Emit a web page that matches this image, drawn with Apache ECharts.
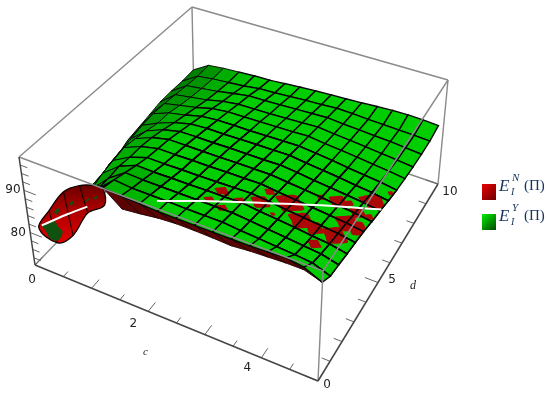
<!DOCTYPE html>
<html>
<head>
<meta charset="utf-8">
<style>html,body{margin:0;background:#fff}#main{width:550px;height:396px}</style>
<script src="https://cdn.jsdelivr.net/npm/echarts@6/dist/echarts.min.js"></script>
</head>
<body>
<div id="main"></div>
<script>
// mesh positions
var cValues = [0, 0.31, 0.61, 0.92, 1.23, 1.53, 1.84, 2.14, 2.45, 2.76, 3.06, 3.37, 3.68, 3.98, 4.29, 4.59, 4.9];
var dValues = [0.5, 1.18, 1.86, 2.54, 3.21, 3.89, 4.57, 5.25, 5.93, 6.61, 7.29, 7.96, 8.64, 9.32, 10];

// E_I^Y, one row per d value
var greenZ = [
  [79.5, 78.7, 82.0, 88.2, 95.3, 95.0, 94.8, 94.6, 94.6, 94.6, 94.6, 94.6, 94.6, 94.8, 95.0, 94.4, 92.5],
  [80.5, 85.1, 87.1, 90.7, 94.6, 94.2, 94.2, 94.2, 94.1, 94.1, 94.1, 93.7, 93.4, 93.1, 92.8, 92.4, 90.9],
  [79.5, 83.6, 86.6, 90.7, 93.7, 93.5, 93.5, 93.5, 93.5, 93.5, 93.5, 93.1, 92.7, 92.3, 91.9, 91.5, 90.5],
  [78.7, 82.0, 87.7, 91.0, 92.8, 92.7, 92.8, 92.8, 92.9, 92.9, 93.0, 92.5, 92.1, 91.7, 91.2, 90.8, 90.0],
  [77.4, 82.0, 88.2, 90.6, 92.0, 92.0, 92.1, 92.1, 92.2, 92.3, 92.4, 92.0, 91.5, 91.1, 90.7, 90.3, 89.6],
  [76.5, 83.1, 88.7, 90.5, 91.5, 91.5, 91.6, 91.6, 91.7, 91.7, 91.8, 91.3, 90.9, 90.5, 90.1, 89.7, 89.1],
  [77.3, 83.6, 88.2, 90.0, 91.0, 91.0, 91.0, 91.0, 91.1, 91.1, 91.1, 90.7, 90.3, 89.9, 89.4, 89.0, 88.4],
  [77.8, 84.0, 87.4, 89.2, 90.2, 90.3, 90.3, 90.4, 90.4, 90.4, 90.5, 90.1, 89.6, 89.2, 88.8, 88.4, 87.8],
  [79.1, 84.6, 86.6, 88.2, 89.3, 89.6, 89.6, 89.7, 89.8, 89.8, 89.9, 89.4, 89.0, 88.6, 88.1, 87.7, 87.1],
  [79.6, 84.8, 86.4, 87.3, 88.4, 88.8, 88.9, 88.9, 89.0, 89.1, 89.2, 88.8, 88.4, 87.9, 87.5, 87.1, 86.5],
  [80.1, 84.6, 85.5, 86.4, 87.5, 88.0, 88.1, 88.2, 88.3, 88.4, 88.6, 88.1, 87.8, 87.4, 87.0, 86.6, 86.1],
  [80.7, 84.1, 84.8, 85.5, 86.5, 87.1, 87.2, 87.3, 87.5, 87.7, 87.9, 87.5, 87.2, 86.9, 86.5, 86.2, 85.8],
  [80.7, 83.6, 84.2, 84.8, 85.6, 86.3, 86.4, 86.6, 86.8, 87.0, 87.2, 86.9, 86.7, 86.5, 86.3, 86.0, 85.7],
  [80.5, 83.2, 83.8, 84.2, 84.6, 85.2, 85.4, 85.7, 86.0, 86.2, 86.5, 86.4, 86.2, 86.1, 86.0, 85.9, 85.7],
  [80.6, 83.2, 83.7, 84.0, 84.3, 84.4, 84.8, 85.1, 85.4, 85.6, 85.8, 86.0, 86.3, 86.5, 86.6, 86.5, 86.3]
];

// E_I^N, only the front strip shows, the rest stays under the green sheet
var redZ = [
  [79.2, 77.3, 80.7, 87.7, 91.2, 91.9, 92.4, 93.0, 93.3, 93.3, 93.2, 93.0, 93.4, 93.6, 93.8, 93.8, 92.5],
  [80.7, 86.9, 90.0, 91.6, 94.3, 94.2, 94.2, 94.2, 94.1, 94.1, 94.1, 93.7, 93.4, 93.1, 92.8, 92.4, 90.9]
];

// places where the red sheet pokes through the green one
var redSpotC = [2.64, 2.6, 2.75, 2.87, 3.0, 3.27, 3.26, 3.64, 3.98, 4.23, 4.4, 3.56, 4.24, 3.97, 4.41, 4.55, 4.62, 4.72, 4.85, 4.6, 4.78, 4.56, 4.82];
var redSpotD = [2.82, 2.12, 2.7, 1.93, 2.63, 3.0, 3.71, 3.61, 3.02, 2.95, 2.2, 2.7, 4.75, 4.57, 4.92, 5.41, 4.65, 5.55, 6.33, 3.91, 3.91, 3.06, 4.72];
var redSpotR = [0.13, 0.1, 0.05, 0.1, 0.1, 0.18, 0.1, 0.26, 0.24, 0.18, 0.13, 0.05, 0.18, 0.08, 0.08, 0.1, 0.16, 0.22, 0.06, 0.24, 0.2, 0.24, 0.08];

// and where the green one pokes through the red curl
var greenSpotC = [0.2, 0.22, 0.5, 0.98, 0.82];
var greenSpotD = [0.62, 0.95, 0.97, 0.85, 0.9];
var greenSpotR = [0.19, 0.06, 0.04, 0.05, 0.04];

// white curve where the sheets cross
var whiteC1 = [0.02, 0.45, 0.85];
var whiteD1 = [0.62, 0.84, 0.74];
var whiteC2 = [2.0, 2.52, 3.28, 4.07, 4.9];
var whiteD2 = [1.0, 1.87, 2.95, 4.2, 5.35];

var cTicks = [0, 0.5, 1, 1.5, 2, 2.5, 3, 3.5, 4, 4.5, 5];
var dTicks = [0, 1, 2, 3, 4, 5, 6, 7, 8, 9, 10];
var zTicks = [74, 76, 78, 80, 82, 84, 86, 88, 90, 92, 94, 96];
var cLabels = [0, 2, 4];
var dLabels = [0, 5, 10];
var zLabels = [80, 90];

var cMax = 5, dMax = 10, zMin = 72.3, zMax = 97.9;

// box corners on screen, named c d z (0 low, 1 high)
var box = {
  b00: [35, 265], b10: [318, 381], b11: [438, 184], b01: [194, 100],
  t00: [19, 157], t10: [323, 271], t11: [448, 80], t01: [192, 7]
};

function mix(a, b, t) {
  return [a[0] + (b[0] - a[0]) * t, a[1] + (b[1] - a[1]) * t];
}

function project(c, d, z) {
  var u = c / cMax, t = d / dMax, f = (z - zMin) / (zMax - zMin);
  var bottom = mix(mix(box.b00, box.b10, u), mix(box.b01, box.b11, u), t);
  var top = mix(mix(box.t00, box.t10, u), mix(box.t01, box.t11, u), t);
  return mix(bottom, top, f);
}

function findCell(list, v) {
  var i = 0;
  while (i < list.length - 2 && list[i + 1] < v) i++;
  return i;
}

// bilinear lookup on a sheet
function sheetZ(sheet, c, d) {
  var i = findCell(cValues, c), j = Math.min(findCell(dValues, d), sheet.length - 2);
  var u = (c - cValues[i]) / (cValues[i + 1] - cValues[i]);
  var t = Math.max(0, (d - dValues[j]) / (dValues[j + 1] - dValues[j]));
  var a = sheet[j][i] + (sheet[j][i + 1] - sheet[j][i]) * u;
  var b = sheet[j + 1][i] + (sheet[j + 1][i + 1] - sheet[j + 1][i]) * u;
  return a + (b - a) * t;
}

function node(api, sheet, i, j) {
  return api.coord(project(cValues[i], dValues[j], sheet[j][i]));
}

function cellPoints(api, sheet, i, j) {
  return [node(api, sheet, i, j), node(api, sheet, i + 1, j), node(api, sheet, i + 1, j + 1), node(api, sheet, i, j + 1)];
}

var cShade = [0.62, 0.72, 0.84, 0.93, 0.98];
function greenColor(i, j) {
  var k = i < cShade.length ? cShade[i] : 1;
  if (j < 3 && i < 6) k *= 0.88;
  return 'rgb(0,' + Math.round(206 * k) + ',0)';
}

var greenCells = [], topCells = [], bandCells = [];
for (var i = 0; i < cValues.length - 1; i++) {
  for (var j = dValues.length - 2; j >= 0; j--) {
    greenCells.push([i, j]);
    if (i >= 5 && j >= 1 && j <= 8) topCells.push([i, j]);
  }
  if (i >= 4 && i < 15) bandCells.push(i);
}

var spots = [];
redSpotC.forEach(function (c, k) { spots.push([c, redSpotD[k], redSpotR[k], 0]); });
greenSpotC.forEach(function (c, k) { spots.push([c, greenSpotD[k], greenSpotR[k], 1]); });

var wobble = [1, 0.75, 1.1, 0.8, 0.95, 0.7, 1.15, 0.85];

var edgesBack = [
  [0, 0, zMax, 0, 10, zMax], [0, 10, zMax, 5, 10, zMax], [0, 10, zMin, 0, 10, zMax],
  [0, 0, zMin, 0, 10, zMin], [0, 10, zMin, 5, 10, zMin]
];
var edgesFront = [
  [0, 0, zMax, 5, 0, zMax], [5, 0, zMax, 5, 10, zMax], [5, 0, zMin, 5, 0, zMax], [5, 10, zMin, 5, 10, zMax]
];
var edgesAxis = [
  [0, 0, zMin, 5, 0, zMin], [5, 0, zMin, 5, 10, zMin], [0, 0, zMin, 0, 0, zMax]
];

var ticks = [];
cTicks.forEach(function (c) {
  var big = c % 1 === 0;
  ticks.push([c, 0, zMin, c, big ? 0.5 : 0.3, zMin]);
});
dTicks.forEach(function (d) {
  var big = d % 5 === 0;
  ticks.push([5, d, zMin, big ? 4.75 : 4.85, d, zMin]);
});
zTicks.forEach(function (z) {
  var big = z % 10 === 0;
  ticks.push([0, 0, z, big ? 0.2 : 0.12, 0, z]);
});

var tickText = [];
var cOffset = [[-3, 15], [-15, 12], [-14, 10]];
var dOffset = [[9, 4], [14, -3], [12, 8]];
var zOffset = [[-12, 0], [-11, 0]];
cLabels.forEach(function (v, k) { tickText.push([v, 0, zMin, String(v), cOffset[k][0], cOffset[k][1]]); });
dLabels.forEach(function (v, k) { tickText.push([5, v, zMin, String(v), dOffset[k][0], dOffset[k][1]]); });
zLabels.forEach(function (v, k) { tickText.push([0, 0, v, String(v), zOffset[k][0], zOffset[k][1]]); });

function lineSeries(list, color, width, z) {
  return {
    type: 'custom', coordinateSystem: 'cartesian2d', silent: true, z: z, clip: false,
    data: list.map(function (e, k) { return [k]; }),
    renderItem: function (params, api) {
      var e = list[params.dataIndex];
      var a = api.coord(project(e[0], e[1], e[2])), b = api.coord(project(e[3], e[4], e[5]));
      return { type: 'line', shape: { x1: a[0], y1: a[1], x2: b[0], y2: b[1] }, style: { stroke: color, lineWidth: width } };
    }
  };
}

function curveSeries(cs, ds, sheet, z) {
  return {
    type: 'custom', coordinateSystem: 'cartesian2d', silent: true, z: z, clip: false,
    data: [[0]],
    renderItem: function (params, api) {
      var pts = cs.map(function (c, k) { return api.coord(project(c, ds[k], sheetZ(sheet, c, ds[k]))); });
      return { type: 'polyline', shape: { points: pts, smooth: 0.2 }, style: { stroke: '#fff', lineWidth: 2, fill: null } };
    }
  };
}

var nameRed = 'E_I^N(Π)', nameGreen = 'E_I^Y(Π)';
var mathFont = '"Liberation Serif", serif';

function mathLabel(top, sup) {
  var color = '#1b3560';
  return [
    { type: 'text', left: 499, top: top, style: { text: 'E', font: 'italic 17px ' + mathFont, fill: color } },
    { type: 'text', left: 512, top: top - 5, style: { text: sup, font: 'italic 11px ' + mathFont, fill: color } },
    { type: 'text', left: 511, top: top + 9, style: { text: 'I', font: 'italic 10px ' + mathFont, fill: color } },
    { type: 'text', left: 524, top: top + 1, style: { text: '(Π)', font: '15px ' + mathFont, fill: color } }
  ];
}

var chart = echarts.init(document.getElementById('main'));
chart.setOption({
  animation: false,
  backgroundColor: '#fff',
  grid: { left: 0, right: 0, top: 0, bottom: 0 },
  xAxis: { type: 'value', min: 0, max: 550, show: false },
  yAxis: { type: 'value', min: 0, max: 396, inverse: true, show: false },
  legend: {
    orient: 'vertical', left: 477, top: 179, itemWidth: 14, itemHeight: 16, itemGap: 14,
    selectedMode: false, icon: 'rect', formatter: function () { return ' '; },
    data: [
      { name: nameRed, itemStyle: { color: new echarts.graphic.LinearGradient(0, 0, 1, 1, [{ offset: 0, color: '#e80000' }, { offset: 1, color: '#700000' }]) } },
      { name: nameGreen, itemStyle: { color: new echarts.graphic.LinearGradient(0, 0, 1, 1, [{ offset: 0, color: '#00ee00' }, { offset: 1, color: '#004800' }]) } }
    ]
  },
  graphic: [
    { type: 'text', left: 143, top: 347, style: { text: 'c', font: 'italic 11px ' + mathFont, fill: '#222' } },
    { type: 'text', left: 410, top: 280, style: { text: 'd', font: 'italic 12px ' + mathFont, fill: '#222' } }
  ].concat(mathLabel(178, 'N'), mathLabel(208, 'Y')),
  series: [
    lineSeries(edgesBack, '#8a8a8a', 1.4, 1),
    {
      // dark underside strip below the green front edge
      name: nameRed, type: 'custom', coordinateSystem: 'cartesian2d', silent: true, z: 2, clip: false,
      itemStyle: { color: '#c00000' },
      data: bandCells,
      renderItem: function (params, api) {
        var i = bandCells[params.dataIndex];
        var pts = [node(api, greenZ, i, 0), node(api, greenZ, i + 1, 0), node(api, redZ, Math.min(i + 2, 16), 0), node(api, redZ, i + 1, 0)];
        return { type: 'polygon', shape: { points: pts }, style: { fill: '#5c0404', stroke: '#1c0000', lineWidth: 0.9 } };
      }
    },
    {
      name: nameGreen, type: 'custom', coordinateSystem: 'cartesian2d', silent: true, z: 3, clip: false,
      itemStyle: { color: '#00d000' },
      data: greenCells,
      renderItem: function (params, api) {
        var cell = greenCells[params.dataIndex];
        return {
          type: 'polygon', shape: { points: cellPoints(api, greenZ, cell[0], cell[1]) },
          style: { fill: greenColor(cell[0], cell[1]), stroke: '#050505', lineWidth: cell[0] < 3 ? 0.9 : 1.4 }
        };
      }
    },
    {
      // the red curl at small c
      type: 'custom', coordinateSystem: 'cartesian2d', silent: true, z: 4, clip: false,
      data: [[0]],
      renderItem: function (params, api) {
        var outline = [0, 1, 2, 3, 4].map(function (i) { return node(api, redZ, i, 0); });
        outline.push(node(api, greenZ, 4, 0));
        [3, 2, 1, 0].forEach(function (i) { outline.push(node(api, redZ, i, 1)); });
        var lines = [1, 2, 3].map(function (i) {
          var a = node(api, redZ, i - 1, 1), b = node(api, redZ, i, 0);
          return { type: 'line', shape: { x1: a[0], y1: a[1], x2: b[0], y2: b[1] }, style: { stroke: '#1c0000', lineWidth: 1.1 } };
        });
        var fill = new echarts.graphic.LinearGradient(0, 0, 0, 1, [
          { offset: 0, color: '#6a0000' }, { offset: 0.4, color: '#a80000' }, { offset: 1, color: '#e00000' }
        ]);
        return {
          type: 'group',
          children: [{ type: 'polygon', shape: { points: outline, smooth: 0.35 }, style: { fill: fill, stroke: '#100000', lineWidth: 1.3 } }].concat(lines)
        };
      }
    },
    {
      type: 'custom', coordinateSystem: 'cartesian2d', silent: true, z: 5, clip: false,
      data: spots,
      renderItem: function (params, api) {
        var s = spots[params.dataIndex];
        var sheet = s[3] ? redZ : greenZ;
        var pts = wobble.map(function (w, k) {
          var a = k * Math.PI / 4;
          var c = Math.min(4.9, Math.max(0, s[0] + s[2] * w * Math.cos(a)));
          var d = s[1] + s[2] * (s[3] ? 0.8 : 1.8) * w * Math.sin(a);
          return api.coord(project(c, d, sheetZ(sheet, c, d)));
        });
        return { type: 'polygon', shape: { points: pts, smooth: 0.3 }, style: { fill: s[3] ? '#0f520f' : '#ac0808' } };
      }
    },
    {
      type: 'custom', coordinateSystem: 'cartesian2d', silent: true, z: 6, clip: false,
      data: topCells,
      renderItem: function (params, api) {
        var cell = topCells[params.dataIndex];
        return {
          type: 'polygon', shape: { points: cellPoints(api, greenZ, cell[0], cell[1]) },
          style: { fill: null, stroke: '#050505', lineWidth: 1.4 }
        };
      }
    },
    curveSeries(whiteC1, whiteD1, redZ, 7),
    curveSeries(whiteC2, whiteD2, greenZ, 7),
    lineSeries(edgesFront, '#8a8a8a', 1.4, 8),
    lineSeries(ticks, '#666', 1, 8),
    lineSeries(edgesAxis, '#444', 1.5, 8),
    {
      type: 'custom', coordinateSystem: 'cartesian2d', silent: true, z: 9, clip: false,
      data: tickText.map(function (t, k) { return [k]; }),
      renderItem: function (params, api) {
        var t = tickText[params.dataIndex];
        var p = api.coord(project(t[0], t[1], t[2]));
        return {
          type: 'text',
          style: { text: t[3], x: p[0] + t[4], y: p[1] + t[5], font: '12px "DejaVu Sans", sans-serif', fill: '#222', align: 'center', verticalAlign: 'middle' }
        };
      }
    }
  ]
});
</script>
</body>
</html>
